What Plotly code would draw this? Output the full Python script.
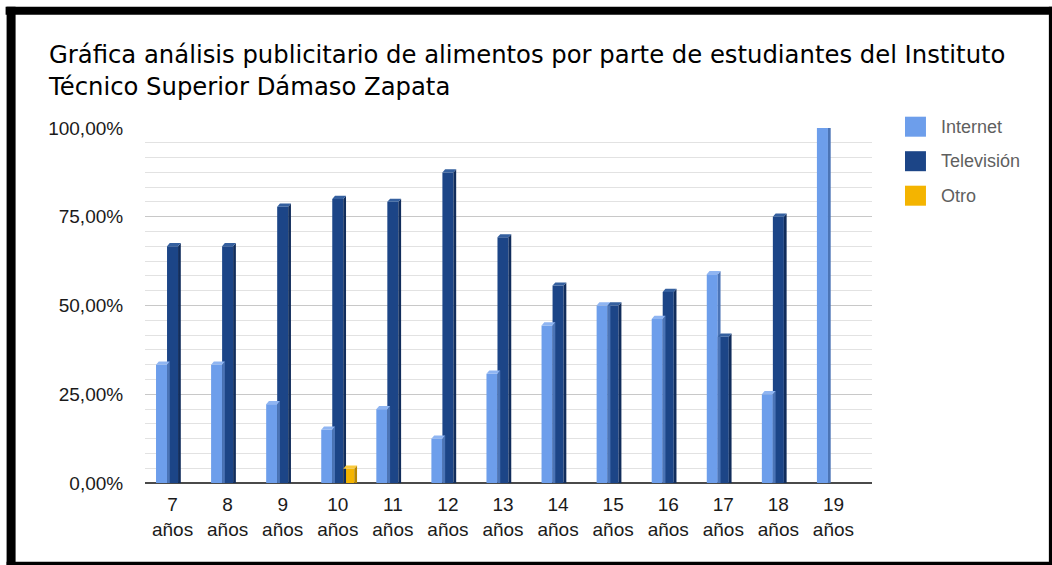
import plotly.graph_objects as go

# Age groups on the x axis
categorias = ["7<br>años", "8<br>años", "9<br>años", "10<br>años", "11<br>años",
              "12<br>años", "13<br>años", "14<br>años", "15<br>años", "16<br>años",
              "17<br>años", "18<br>años", "19<br>años"]

# Share of students per medium (percent)
internet = [33.3, 33.3, 22.2, 15.0, 20.8, 12.5, 30.8, 44.4, 50.0, 46.2, 58.8, 25.0, 100.0]
television = [66.7, 66.7, 77.8, 80.0, 79.2, 87.5, 69.2, 55.6, 50.0, 53.8, 41.2, 75.0, 0.0]
otro = [0, 0, 0, 4.0, 0, 0, 0, 0, 0, 0, 0, 0, 0]

nombres = ["Internet", "Televisión", "Otro"]
colores = ["#6d9eeb", "#1c4587", "#f4b400"]
lados = ["#4b74b6", "#112d5c", "#b88700"]
tapas = ["#8fb5f2", "#35609f", "#f9c93c"]
valores = [internet, television, otro]

titulo = ("Gráfica análisis publicitario de alimentos por parte de estudiantes del Instituto"
          "<br>Técnico Superior Dámaso Zapata")

W, H = 1052, 565
# plot area in pixels
PL, PR, PT, PB = 144.5, 872.0, 128.3, 483.3
XMIN, XMAX = -0.5, 12.7


def px_x(p):
    return (p - PL) / (PR - PL)


def px_y(p):
    return (PB - p) / (PB - PT)


fig = go.Figure()
for nombre, vals, color in zip(nombres, valores, colores):
    fig.add_trace(go.Bar(
        x=list(range(len(categorias))), y=[v / 100 for v in vals], name=nombre,
        marker=dict(color=color, line=dict(width=0)), showlegend=False,
        hoverinfo="x+y+name"))

shapes = []
# bar geometry used by the grouped layout (bargap 0.4, three series)
bargap = 0.4
n = len(nombres)
w = (1 - bargap) / n
dx = 0.05    # depth of the 3D side (category units)
dy = 0.009   # depth of the 3D cap (axis units)
for i, vals in enumerate(valores):
    off = -(1 - bargap) / 2 + w * (i + 0.5)
    for j, v in enumerate(vals):
        if v <= 0:
            continue
        y = v / 100
        xl = j + off - w / 2
        xr = j + off + w / 2
        shapes.append(dict(
            type="path", xref="x", yref="y", layer="above",
            path=f"M{xr},0 L{xr},{y} L{xr+dx},{y+dy} L{xr+dx},0 Z",
            fillcolor=lados[i], line=dict(width=0)))
        shapes.append(dict(
            type="path", xref="x", yref="y", layer="above",
            path=f"M{xl},{y} L{xr},{y} L{xr+dx},{y+dy} L{xl+dx},{y+dy} Z",
            fillcolor=tapas[i], line=dict(width=0)))

# frame around the chart
shapes += [
    dict(type="rect", xref="paper", yref="paper", x0=px_x(5), x1=px_x(W + 2),
         y0=px_y(15), y1=px_y(7), fillcolor="black", line=dict(width=0), layer="above"),
    dict(type="rect", xref="paper", yref="paper", x0=px_x(6), x1=px_x(15),
         y0=px_y(H + 2), y1=px_y(7), fillcolor="black", line=dict(width=0), layer="above"),
    dict(type="rect", xref="paper", yref="paper", x0=px_x(1049), x1=px_x(W + 2),
         y0=px_y(H + 2), y1=px_y(7), fillcolor="black", line=dict(width=0), layer="above"),
    dict(type="rect", xref="paper", yref="paper", x0=px_x(6), x1=px_x(W + 2),
         y0=px_y(H + 2), y1=px_y(562), fillcolor="black", line=dict(width=0), layer="above"),
]

annotations = [dict(
    xref="paper", yref="paper", x=px_x(45), y=px_y(38), text=titulo,
    showarrow=False, xanchor="left", yanchor="top", align="left",
    font=dict(family="DejaVu Sans, Liberation Sans, Arial", size=24.3, color="#000000"))]

# legend
for k, (nombre, color) in enumerate(zip(nombres, colores)):
    cy = 127 + 34.5 * k
    shapes.append(dict(type="rect", xref="paper", yref="paper",
                       x0=px_x(905), x1=px_x(926), y0=px_y(cy + 10), y1=px_y(cy - 10),
                       fillcolor=color, line=dict(width=0)))
    annotations.append(dict(xref="paper", yref="paper", x=px_x(939), y=px_y(cy),
                            text=nombre, showarrow=False, xanchor="left", yanchor="middle",
                            font=dict(family="Liberation Sans, Arial", size=18, color="#5f5f5f")))

fig.update_layout(
    width=W, height=H,
    margin=dict(l=PL, r=W - PR, t=PT, b=H - PB, pad=0),
    paper_bgcolor="white", plot_bgcolor="white",
    barmode="group", bargap=bargap, bargroupgap=0,
    separators=",.",
    font=dict(family="Liberation Sans, Arial", color="#1a1a1a"),
    xaxis=dict(
        range=[XMIN, XMAX], tickmode="array", tickvals=list(range(len(categorias))),
        ticktext=categorias, showgrid=False, zeroline=False,
        showline=False, ticks="outside", ticklen=4, tickcolor="rgba(0,0,0,0)",
        tickfont=dict(size=19, color="#1a1a1a")),
    yaxis=dict(
        range=[0, 1], tickmode="linear", tick0=0, dtick=0.25, tickformat=".2%",
        showgrid=True, gridcolor="#c8c8c8", gridwidth=1,
        minor=dict(dtick=0.25 / 6, showgrid=True, gridcolor="#e2e2e2", gridwidth=1),
        zeroline=True, zerolinecolor="#4a4a4a", zerolinewidth=1.5,
        showline=False, ticks="outside", ticklen=17, tickcolor="rgba(0,0,0,0)",
        tickfont=dict(size=19, color="#1a1a1a")),
    shapes=shapes, annotations=annotations,
)

fig.write_html("out.html")
